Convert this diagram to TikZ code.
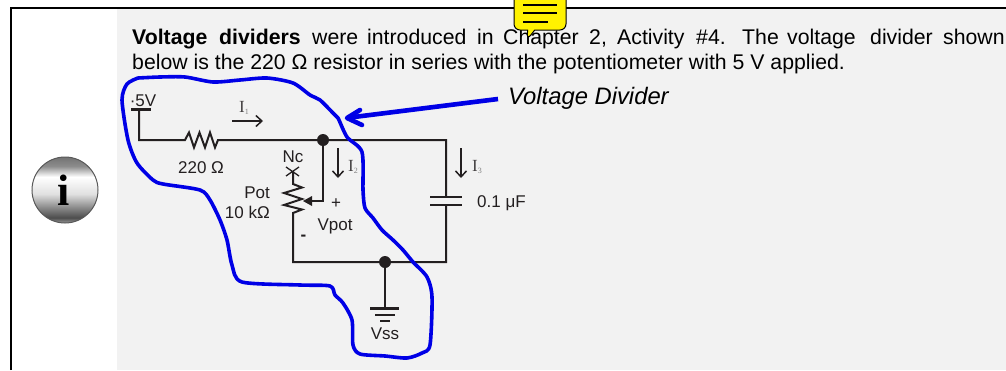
\documentclass[tikz,border=0pt]{standalone}
\usepackage{fontspec}
\setmainfont{Liberation Sans}
\newfontfamily\serifx{Liberation Serif}
\usetikzlibrary{arrows.meta,shapes.callouts,calc}
\definecolor{panel}{HTML}{F2F2F2}
\definecolor{wirec}{HTML}{231F20}
\definecolor{inkblue}{HTML}{0000E6}
\pgfdeclareverticalshading{metal}{100bp}{color(0bp)=(gray!80);color(25bp)=(gray!80);color(29bp)=(black!70);color(37bp)=(black!45);color(47bp)=(black!12);color(60bp)=(white);color(68bp)=(black!45);color(75bp)=(black!55);color(100bp)=(black!55)}
\tikzset{x=1pt,y=-1pt,
 wire/.style={draw=wirec,line width=2pt,line join=miter},
 lbl/.style={font=\fontsize{17}{20}\selectfont,text=wirec,inner sep=0pt},
 body/.style={font=\fontsize{21.25}{24}\selectfont,text=black,inner sep=0pt,anchor=base west},
 cur/.style={font=\serifx\fontsize{17}{20}\selectfont,text=wirec!85,inner sep=0pt},
 curarrow/.style={draw=wirec,line width=1.5pt,-{Straight Barb[length=6pt,width=11pt]}},
 ink/.style={draw=inkblue,line width=3.6pt,line cap=round,line join=round},
 dot/.style={circle,fill=wirec,inner sep=0pt,minimum size=12pt}}
\newcommand{\cursub}[1]{\raisebox{-2pt}{\fontsize{8}{8}\selectfont\color{gray}#1}}
\begin{document}
\begin{tikzpicture}
\useasboundingbox (0,0) rectangle (1006,370);
\fill[white] (0,0) rectangle (1006,370);
\fill[panel] (117,9) rectangle (1006,370);
\draw[black,line width=2.4pt] (11,370) -- (11,8) -- (1006,8);
% icon
\begin{scope}
\clip (65,190) circle (33);
\shade[shading=metal] (32,157) rectangle (98,223);
\end{scope}
\draw[gray!70!black,line width=1pt] (65,190) circle (33);
\node[inner sep=0pt,anchor=base,font=\serifx\bfseries\fontsize{44}{44}\selectfont] (info) at (64,205) {i};
% body text
\node[body] (t1a) at (132,44) {\textbf{Voltage}};
\node[body] (t1b) at (219,44) {\textbf{dividers}};
\node[body] (t1c) at (312,44) {were};
\node[body] (t1d) at (367,44) {introduced};
\node[body] (t1e) at (477,44) {in};
\node[body] (t1f) at (503,44) {Chapter};
\node[body] (t1g) at (589,44) {2,};
\node[body] (t1h) at (617,44) {Activity};
\node[body] (t1i) at (696,44) {\#4.};
\node[body] (t1j) at (742,44) {The};
\node[body] (t1k) at (787,44) {voltage};
\node[body] (t1l) at (870,44) {divider};
\node[body] (t1m) at (943,44) {shown};
\node[body] (t2) at (132,69) {below is the 220 Ω resistor in series with the potentiometer with 5 V applied.};
\node[inner sep=0pt,anchor=base west,font=\itshape\fontsize{23.8}{26}\selectfont] (vd) at (508,104.5) {Voltage Divider};
% circuit coordinates
\coordinate (top) at (139,110);
\coordinate (corner) at (139,140);
\coordinate (rl) at (185,140);
\coordinate (rr) at (218,140);
\coordinate (capt) at (446,140);
\coordinate (capb1) at (446,197);
\coordinate (capb2) at (446,205);
\coordinate (br) at (446,262);
\coordinate (bl) at (293,262);
\coordinate (pb) at (293,213);
\coordinate (pt) at (293,172);
\coordinate (wt) at (323,201);
\node[dot] (n1) at (323,140) {};
\node[dot] (n2) at (385,262) {};
\coordinate (g1) at (385,308);
\draw[wirec,line width=2.8pt] (131,109.5) -- (151,109.5);
\draw[wire] (top) -- (corner) -- (rl) -- (189,132.5) -- (194,147.5) -- (199.5,132.5) -- (205,147.5) -- (210,132.5) -- (215,147.5) -- (rr) -- (n1) -- (capt) -- (capb1);
\draw[wirec,line width=2.2pt] (430,197) -- (462,197) (430,205) -- (462,205);
\draw[wire] (capb2) -- (br) -- (n2) -- (bl) -- (pb) -- (302,209.5) -- (284,205) -- (302,199) -- (284,193) -- (302,187.5) -- (293,184) -- (pt);
\draw[wirec,line width=1.3pt] (286,167) -- (299,176) (299,167) -- (286,176);
\draw[wire] (n1) -- (wt) -- (310,201);
\fill[wirec] (303,201) -- (312,196) -- (312,206) -- cycle;
% ground
\draw[wirec,line width=2.4pt] (n2) -- (g1);
\draw[wirec,line width=2.2pt] (370,308.5) -- (399,308.5) (375,315) -- (395,315) (380,321) -- (390,321);
% labels
\node[lbl,anchor=base] (l5v) at (143,106) {·5V};
\node[lbl,anchor=base] (l220) at (201,173) {220 Ω};
\node[lbl,anchor=base] (lnc) at (293,162) {Nc};
\node[lbl,anchor=base east] (lpot) at (270,198) {Pot};
\node[lbl,anchor=base east] (l10k) at (270,218) {10 kΩ};
\node[lbl,anchor=base] (lplus) at (336,208) {+};
\node[lbl,anchor=base] (lvpot) at (335,230) {Vpot};
\node[lbl,anchor=base] (lminus) at (303.5,240) {\textbf{-}};
\node[lbl,anchor=base] (lvss) at (385,339) {Vss};
\node[lbl,anchor=base west] (lcap) at (477,207) {0.1 μF};
% currents
\node[cur,anchor=base west] (i1) at (239,112) {I\cursub{1}};
\coordinate (a1s) at (232,121); \coordinate (a1e) at (263,121);
\draw[curarrow] (a1s) -- (a1e);
\node[cur,anchor=base west] (i2) at (348,171) {I\cursub{2}};
\coordinate (a2s) at (338,148); \coordinate (a2e) at (338,178);
\draw[curarrow] (a2s) -- (a2e);
\node[cur,anchor=base west] (i3) at (472,171) {I\cursub{3}};
\coordinate (a3s) at (461,148); \coordinate (a3e) at (461,178);
\draw[curarrow] (a3s) -- (a3e);
% ink outline
\draw[ink,smooth,tension=0.45] plot coordinates {(138,78) (160,77) (185,77) (213,82) (240,80) (267,78) (293,83) (310,95) (320,100) (333,113) (338,118) (347,137) (362,152) (363,190) (365,208) (373,218) (382,230) (393,240) (403,250) (413,262) (427,277) (432,297) (430,345) (422,353) (407,358) (385,356) (360,354) (353,345) (352,320) (343,303) (335,295) (330,286) (300,285) (242,282) (232,265) (227,240) (220,220) (210,200) (200,190) (163,184) (153,180) (137,163) (128,140) (122,100) (127,84) (138,78)};
\draw[inkblue,line width=4.6pt,line cap=butt] (498,99) -- (350,117.5);
\draw[inkblue,line width=4.6pt,line cap=round,line join=round] (360,110) -- (347,118) -- (362,125);
% note
\node[rectangle callout,draw=black,line width=1pt,fill=yellow,rounded corners=6pt,minimum width=52pt,minimum height=42pt,callout absolute pointer={(527,40)},inner sep=0pt] (note) at (540,9) {};
\draw[black,line width=1.2pt] (523,5) -- (557,5) (523,13) -- (557,13) (523,22) -- (548,22);
\end{tikzpicture}
\end{document}
